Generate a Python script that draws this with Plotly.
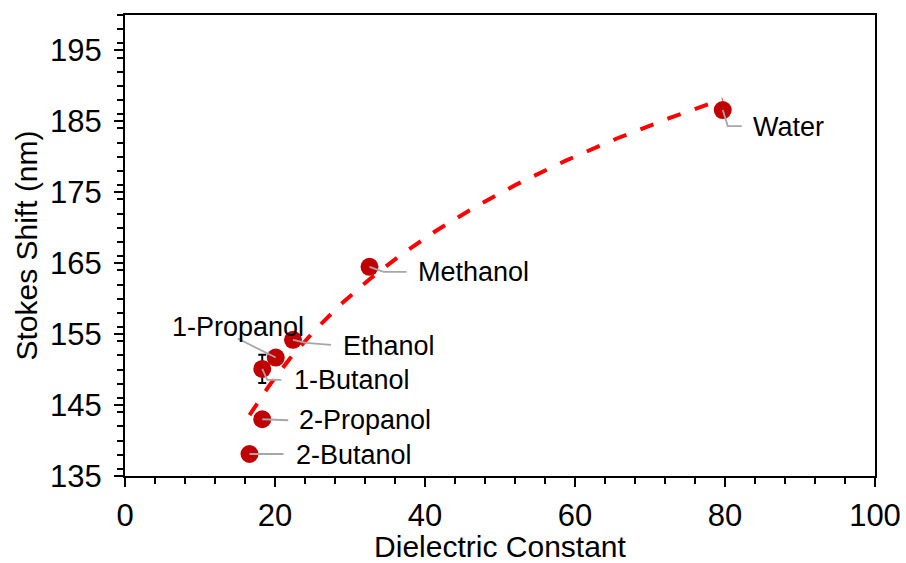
import numpy as np
import plotly.graph_objects as go

# Solvents, their dielectric constants and the measured Stokes shifts
solvents = ["Water", "Methanol", "Ethanol", "1-Propanol", "1-Butanol", "2-Propanol", "2-Butanol"]
dielectric = [79.7, 32.6, 22.4, 20.1, 18.3, 18.3, 16.6]
stokes_shift = [186.6, 164.5, 154.2, 151.7, 150.1, 143.0, 138.1]
stokes_err = [0, 0, 0, 0, 2.0, 0, 0]

x_ticks = [0, 20, 40, 60, 80, 100]
y_ticks = [135, 145, 155, 165, 175, 185, 195]

FONT = "Arial, 'Liberation Sans', sans-serif"

# Logarithmic trendline y = a*ln(x) + b through the data
a, b = np.polyfit(np.log(dielectric), stokes_shift, 1)
fit_x = np.linspace(min(dielectric), max(dielectric), 200)
fit_y = a * np.log(fit_x) + b

fig = go.Figure()

fig.add_trace(go.Scatter(
    x=dielectric, y=stokes_shift, mode="markers",
    marker=dict(color="#C00000", size=18, line=dict(width=0)),
    error_y=dict(type="data", array=stokes_err, visible=True,
                 color="black", thickness=2, width=4),
    showlegend=False, hoverinfo="x+y",
))

fig.add_trace(go.Scatter(
    x=fit_x, y=fit_y, mode="lines",
    line=dict(color="#FF0000", width=4, dash="14px,15px"),
    showlegend=False, hoverinfo="skip",
))

# Leader-line geometry (pixel offsets from each point, y up) and label offsets
leaders = {
    "Water": [(0, 0), (5, -16), (19, -16)],
    "Methanol": [(0, 0), (14, -5), (37, -5)],
    "Ethanol": [(0, 0), (13, -3), (38, -5)],
    "1-Propanol": [(0, 0), (-38, 19)],
    "1-Butanol": [(0, 0), (5, -11), (19, -11)],
    "2-Propanol": [(0, 0), (26, -1)],
    "2-Butanol": [(0, 0), (34, 0)],
}
label_pos = {
    "Water": (28, -17, "left"),
    "Methanol": (46, -5, "left"),
    "Ethanol": (48, -6, "left"),
    "1-Propanol": (-38, 31, "center"),
    "1-Butanol": (30, -11, "left"),
    "2-Propanol": (35, -1, "left"),
    "2-Butanol": (44, -1, "left"),
}

for name, xv, yv in zip(solvents, dielectric, stokes_shift):
    pts = leaders[name]
    path = "M " + " L ".join(f"{px},{py}" for px, py in pts)
    fig.add_shape(
        type="path", path=path, xref="x", yref="y",
        xsizemode="pixel", ysizemode="pixel", xanchor=xv, yanchor=yv,
        line=dict(color="#A6A6A6", width=1.8), layer="above",
    )
    dx, dy, anchor = label_pos[name]
    fig.add_annotation(
        x=xv, y=yv, text=name, showarrow=False,
        xshift=dx, yshift=dy, xanchor=anchor, yanchor="middle",
        font=dict(family=FONT, size=27, color="black"),
    )

axis_common = dict(
    showgrid=False, zeroline=False, showline=True, linecolor="black",
    linewidth=2, mirror=True, ticks="outside", ticklen=9, tickwidth=2,
    tickcolor="black", tickfont=dict(family=FONT, size=31, color="black"),
    automargin=False,
)

fig.update_xaxes(
    range=[0, 100], tickvals=x_ticks, ticklabelstandoff=2,
    minor=dict(dtick=4, ticks="outside", ticklen=6, tickwidth=1.5, tickcolor="black"),
    title=dict(text="Dielectric Constant", font=dict(family=FONT, size=30, color="black"), standoff=13),
    **axis_common,
)
fig.update_yaxes(
    range=[135, 200], tickvals=y_ticks, ticklabelstandoff=6,
    minor=dict(dtick=2, ticks="outside", ticklen=6, tickwidth=1.5, tickcolor="black"),
    title=dict(text="Stokes Shift (nm)", font=dict(family=FONT, size=30, color="black"), standoff=4),
    **axis_common,
)

fig.update_layout(
    width=906, height=563,
    margin=dict(l=125, r=31, t=15, b=87),
    plot_bgcolor="white", paper_bgcolor="white",
    font=dict(family=FONT, color="black"),
)

fig.write_html("out.html")
